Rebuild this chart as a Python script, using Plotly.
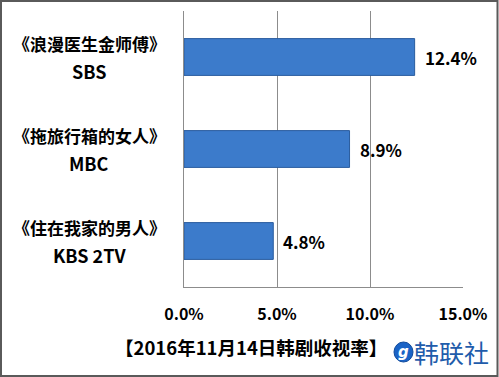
import plotly.graph_objects as go

shows = ["《浪漫医生金师傅》", "《拖旅行箱的女人》", "《住在我家的男人》"]
networks = ["SBS", "MBC", "KBS 2TV"]
ratings = [12.4, 8.9, 4.8]
x_ticks = [0, 5, 10, 15]
x_tick_labels = ["0.0%", "5.0%", "10.0%", "15.0%"]
title_text = "【2016年11月14日韩剧收视率】"
logo_text = "韩联社"

W, H = 499, 377
L, R, T, B = 184, 36, 11, 90
PW, PH = W - L - R, H - T - B

def px(x):
    return (x - L) / PW

def py(y):
    return (H - B - y) / PH

FONT = "Noto Sans CJK SC, Noto Sans, sans-serif"

fig = go.Figure()
fig.add_trace(go.Bar(
    x=ratings, y=networks, orientation="h",
    marker=dict(color="#3C7BCB", line=dict(color="#2A5C9E", width=1)),
    width=0.4, hoverinfo="skip",
))

annotations = []
for show, net, r in zip(shows, networks, ratings):
    annotations.append(dict(x=px(89), xref="paper", y=net, yref="y", text=f"<b>{show}</b>",
                            showarrow=False, xanchor="center", yanchor="middle", yshift=14,
                            font=dict(family=FONT, size=17, color="#000")))
    annotations.append(dict(x=px(89), xref="paper", y=net, yref="y", text=f"<b>{net}</b>",
                            showarrow=False, xanchor="center", yanchor="middle", yshift=-14,
                            font=dict(family=FONT, size=18, color="#000")))
    annotations.append(dict(x=r, xref="x", y=net, yref="y", text=f"<b>{r:.1f}%</b>",
                            showarrow=False, xanchor="left", yanchor="middle", xshift=8,
                            font=dict(family=FONT, size=17, color="#000")))

annotations.append(dict(x=px(251), xref="paper", y=py(347), yref="paper", text=f"<b>{title_text}</b>",
                        showarrow=False, xanchor="center", yanchor="middle",
                        font=dict(family=FONT, size=18.5, color="#000")))
annotations.append(dict(x=px(412), xref="paper", y=py(352), yref="paper", text=logo_text,
                        showarrow=False, xanchor="left", yanchor="middle",
                        font=dict(family=FONT, size=25, color="#1F5CAB")))
annotations.append(dict(x=px(403.5), xref="paper", y=py(352), yref="paper", text="<b><i>g</i></b>",
                        showarrow=False, xanchor="center", yanchor="middle",
                        font=dict(family="DejaVu Sans", size=15, color="#FFFFFF")))

shapes = [
    dict(type="rect", xref="paper", yref="paper", x0=px(1), x1=px(497.5), y0=py(376), y1=py(1),
         line=dict(color="#5A5A5A", width=2), layer="below"),
    dict(type="circle", xref="paper", yref="paper", x0=px(394), x1=px(413), y0=py(362), y1=py(342),
         fillcolor="#1A63C6", line=dict(color="#0F4A9C", width=1)),
]

fig.update_layout(
    width=W, height=H,
    margin=dict(l=L, r=R, t=T, b=B),
    paper_bgcolor="white", plot_bgcolor="white",
    showlegend=False,
    bargap=0.6,
    annotations=annotations,
    shapes=shapes,
    xaxis=dict(range=[0, 15], tickvals=x_ticks, ticktext=[f"<b>{t}</b>" for t in x_tick_labels],
               showgrid=True, gridcolor="#8C8C8C", gridwidth=1, zeroline=False,
               showline=True, linecolor="#8C8C8C", linewidth=1,
               ticks="outside", ticklen=13, tickcolor="rgba(0,0,0,0)",
               tickfont=dict(family=FONT, size=16, color="#000"), fixedrange=True),
    yaxis=dict(categoryorder="array", categoryarray=networks[::-1], showticklabels=False,
               showline=True, linecolor="#8C8C8C", linewidth=1, showgrid=False, zeroline=False,
               fixedrange=True),
)

fig.write_html("out.html")
